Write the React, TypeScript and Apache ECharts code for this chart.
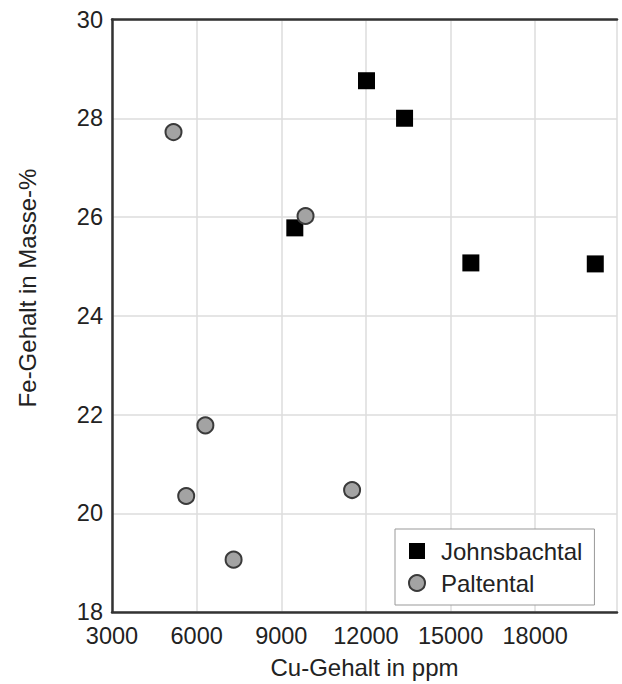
import React, { useEffect, useRef } from "react";
import * as echarts from "echarts";

const seriesNames = ["Johnsbachtal", "Paltental"];
const johnsbachtal: [number, number][] = [
  [12020, 28.76],
  [13370, 28.0],
  [9480, 25.78],
  [15720, 25.07],
  [20130, 25.05],
];
const paltental: [number, number][] = [
  [5180, 27.72],
  [9860, 26.02],
  [6310, 21.78],
  [5630, 20.35],
  [7310, 19.06],
  [11510, 20.47],
];
const xTitle = "Cu-Gehalt in ppm";
const yTitle = "Fe-Gehalt in Masse-%";

const FONT = "'Liberation Sans', Arial, sans-serif";

export default function App() {
  const ref = useRef<HTMLDivElement>(null);
  useEffect(() => {
    if (!ref.current) return;
    const chart = echarts.init(ref.current, undefined, { renderer: "svg" });
    const axisLine = { show: true, lineStyle: { color: "#333", width: 2.5 } };
    chart.setOption({
      animation: false,
      backgroundColor: "#fff",
      textStyle: { fontFamily: FONT },
      grid: { left: 112, right: 5, top: 19.5, bottom: 68.5 },
      xAxis: [
        {
          type: "value",
          min: 3000,
          max: 20900,
          interval: 3000,
          axisLine: { ...axisLine, onZero: false },
          axisTick: { show: false },
          axisLabel: {
            color: "#222",
            fontSize: 23.5,
            fontFamily: FONT,
            margin: 12,
            showMaxLabel: false,
            formatter: (v: number) => String(v),
          },
          splitLine: { show: true, lineStyle: { color: "#dcdcdc", width: 1.5 } },
          name: xTitle,
          nameLocation: "middle",
          nameGap: 43,
          nameTextStyle: { color: "#222", fontSize: 24, fontFamily: FONT },
        },
        {
          type: "value",
          position: "top",
          min: 3000,
          max: 20900,
          interval: 3000,
          axisLine: { ...axisLine, onZero: false },
          axisTick: { show: false },
          axisLabel: { show: false },
          splitLine: { show: false },
        },
      ],
      yAxis: {
        type: "value",
        min: 18,
        max: 30,
        interval: 2,
        axisLine: { ...axisLine, onZero: false },
        axisTick: { show: false },
        axisLabel: { color: "#222", fontSize: 23.5, fontFamily: FONT, margin: 9 },
        splitLine: { show: true, lineStyle: { color: "#dcdcdc", width: 1.5 } },
      },
      legend: {
        orient: "vertical",
        left: 395,
        top: 529,
        data: seriesNames,
        backgroundColor: "#fff",
        borderColor: "#999",
        borderWidth: 1,
        borderRadius: 0,
        padding: [10, 12, 10, 13],
        itemGap: 8,
        itemWidth: 16,
        itemHeight: 16,
        textStyle: { color: "#222", fontSize: 24, fontFamily: FONT, padding: [0, 0, 0, 11] },
      },
      graphic: [
        {
          type: "text",
          x: 27,
          y: 288,
          rotation: Math.PI / 2,
          style: {
            text: yTitle,
            fill: "#222",
            fontSize: 24,
            fontFamily: FONT,
            textAlign: "center",
            textVerticalAlign: "middle",
          },
        },
      ],
      series: [
        {
          name: seriesNames[0],
          type: "scatter",
          symbol: "rect",
          symbolSize: 17,
          itemStyle: { color: "#000", opacity: 1 },
          data: johnsbachtal,
        },
        {
          name: seriesNames[1],
          type: "scatter",
          symbol: "circle",
          symbolSize: 16,
          itemStyle: { color: "#a3a3a3", borderColor: "#3a3a3a", borderWidth: 2, opacity: 1 },
          data: paltental,
        },
      ],
    });
    return () => chart.dispose();
  }, []);
  return <div ref={ref} style={{ width: 622, height: 684, position: "absolute", left: 0, top: 0 }} />;
}
